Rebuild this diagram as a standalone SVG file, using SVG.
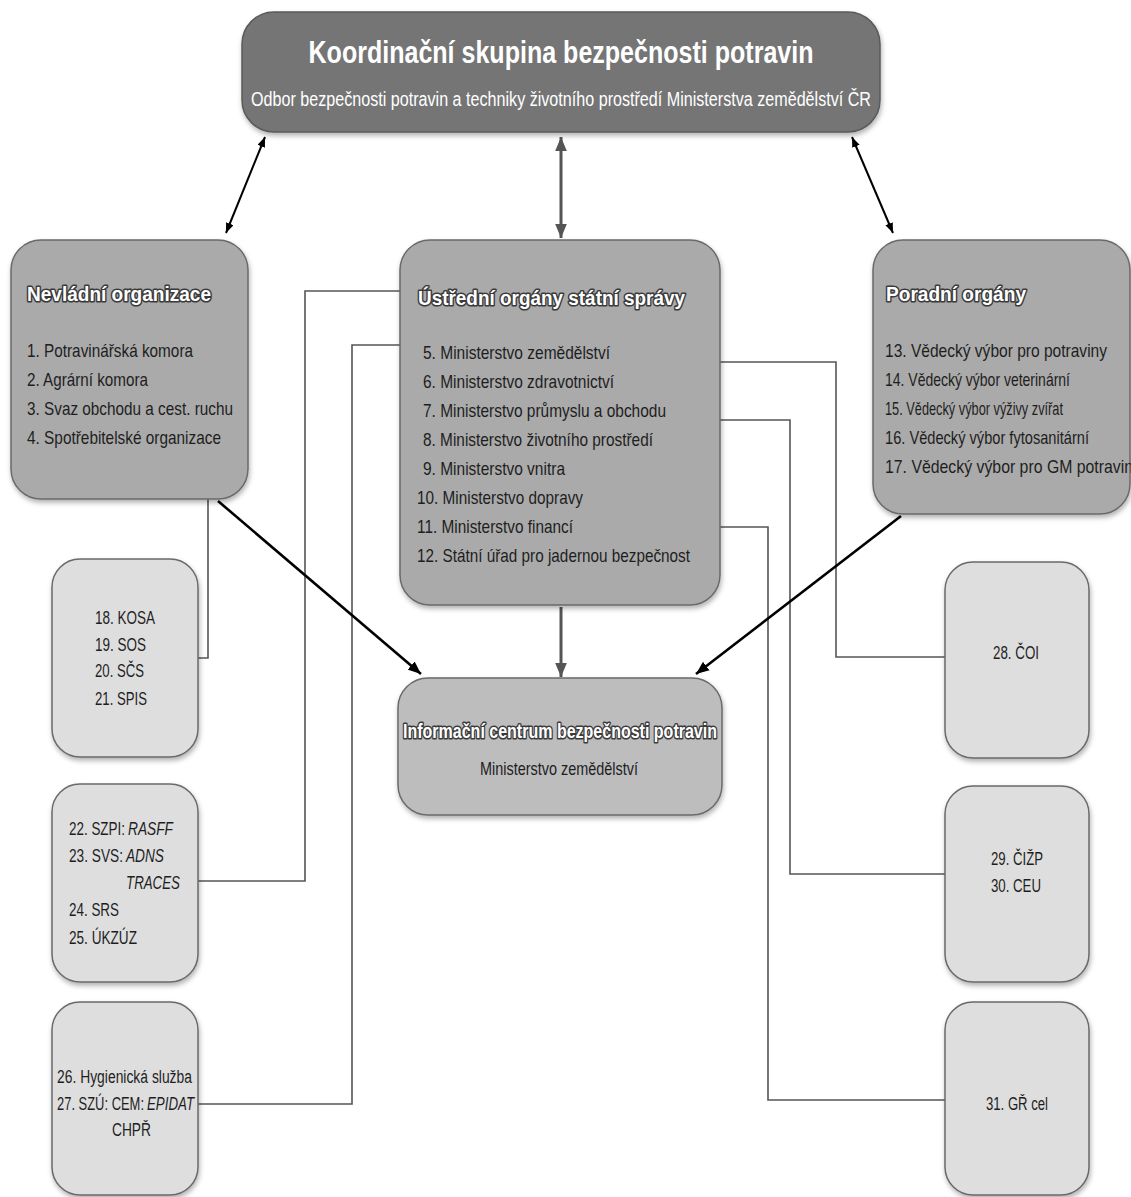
<svg xmlns="http://www.w3.org/2000/svg" width="1131" height="1197" viewBox="0 0 1131 1197">
<style>
.t{font-family:"Liberation Sans",Arial,sans-serif;fill:#1e1e1e;font-size:19px}
.s{font-family:"Liberation Sans",Arial,sans-serif;fill:#1e1e1e;font-size:18px}
.i{font-style:italic}
.h{font-family:"Liberation Sans",Arial,sans-serif;font-weight:bold;font-size:21px;fill:#fff;stroke:#3a3a3a;stroke-width:3.2px;paint-order:stroke;stroke-linejoin:round}
.big{fill:#aaaaaa;stroke:#6a6a6a;stroke-width:1.5}
.light{fill:#dedede;stroke:#6a6a6a;stroke-width:1.5}
.conn{fill:none;stroke:#555;stroke-width:1.6}
</style>
<defs>
<filter id="sh" x="-10%" y="-10%" width="120%" height="125%">
<feDropShadow dx="1" dy="3" stdDeviation="2.5" flood-color="#000" flood-opacity="0.3"/>
</filter>
<marker id="ab" viewBox="0 0 10 8" refX="10" refY="4" markerWidth="10" markerHeight="8" markerUnits="userSpaceOnUse" orient="auto-start-reverse">
<path d="M0,0 L10,4 L0,8 z" fill="#000"/>
</marker>
<marker id="ag" viewBox="0 0 12 10" refX="12" refY="5" markerWidth="14" markerHeight="12" markerUnits="userSpaceOnUse" orient="auto-start-reverse">
<path d="M0,0 L12,5 L0,10 z" fill="#555"/>
</marker>
<marker id="ak" viewBox="0 0 12 10" refX="12" refY="5" markerWidth="13" markerHeight="11" markerUnits="userSpaceOnUse" orient="auto">
<path d="M0,0 L12,5 L0,10 z" fill="#000"/>
</marker>
</defs>

<g id="connectors">
<polyline class="conn" points="208,499 208,658 198,658"/>
<polyline class="conn" points="400,291 305,291 305,881 198,881"/>
<polyline class="conn" points="400,345 352,345 352,1104 198,1104"/>
<polyline class="conn" points="720,362 836,362 836,657 945,657"/>
<polyline class="conn" points="720,420 790,420 790,874 945,874"/>
<polyline class="conn" points="720,527 768,527 768,1100 945,1100"/>
<line x1="265" y1="137" x2="226" y2="233" stroke="#000" stroke-width="2" marker-start="url(#ab)" marker-end="url(#ab)"/>
<line x1="561" y1="137" x2="561" y2="238" stroke="#555" stroke-width="3" marker-start="url(#ag)" marker-end="url(#ag)"/>
<line x1="852" y1="137" x2="893" y2="233" stroke="#000" stroke-width="2" marker-start="url(#ab)" marker-end="url(#ab)"/>
<line x1="218" y1="501" x2="421" y2="674" stroke="#000" stroke-width="2.6" marker-end="url(#ak)"/>
<line x1="901" y1="516" x2="696" y2="674" stroke="#000" stroke-width="2.6" marker-end="url(#ak)"/>
<line x1="561" y1="607" x2="561" y2="677" stroke="#555" stroke-width="3" marker-end="url(#ag)"/>
</g>

<g id="koordinacni-skupina">
<rect x="242" y="12" width="638" height="120" rx="32" fill="#747474" stroke="#5a5a5a" stroke-width="1.5" filter="url(#sh)"/>
<text x="561" y="63" text-anchor="middle" font-family="Liberation Sans, Arial, sans-serif" font-weight="bold" font-size="32" fill="#fff" textLength="505" lengthAdjust="spacingAndGlyphs">Koordinační skupina bezpečnosti potravin</text>
<text x="561" y="106" text-anchor="middle" font-family="Liberation Sans, Arial, sans-serif" font-size="20" fill="#fff" textLength="620" lengthAdjust="spacingAndGlyphs">Odbor bezpečnosti potravin a techniky životního prostředí Ministerstva zemědělství ČR</text>
</g>

<g id="nevladni-organizace">
<rect class="big" x="11" y="240" width="237" height="259" rx="30" filter="url(#sh)"/>
<text class="h" x="27" y="301" textLength="184" lengthAdjust="spacingAndGlyphs">Nevládní organizace</text>
<text class="t" x="27" y="357" textLength="166" lengthAdjust="spacingAndGlyphs">1. Potravinářská komora</text>
<text class="t" x="27" y="386" textLength="121" lengthAdjust="spacingAndGlyphs">2. Agrární komora</text>
<text class="t" x="27" y="415" textLength="206" lengthAdjust="spacingAndGlyphs">3. Svaz obchodu a cest. ruchu</text>
<text class="t" x="27" y="444" textLength="194" lengthAdjust="spacingAndGlyphs">4. Spotřebitelské organizace</text>
</g>

<g id="ustredni-organy">
<rect class="big" x="400" y="240" width="320" height="365" rx="30" filter="url(#sh)"/>
<text class="h" x="418" y="305" textLength="267" lengthAdjust="spacingAndGlyphs">Ústřední orgány státní správy</text>
<text class="t" x="423" y="359" textLength="187" lengthAdjust="spacingAndGlyphs">5. Ministerstvo zemědělství</text>
<text class="t" x="423" y="388" textLength="191" lengthAdjust="spacingAndGlyphs">6. Ministerstvo zdravotnictví</text>
<text class="t" x="423" y="417" textLength="243" lengthAdjust="spacingAndGlyphs">7. Ministerstvo průmyslu a obchodu</text>
<text class="t" x="423" y="446" textLength="230" lengthAdjust="spacingAndGlyphs">8. Ministerstvo životního prostředí</text>
<text class="t" x="423" y="475" textLength="142" lengthAdjust="spacingAndGlyphs">9. Ministerstvo vnitra</text>
<text class="t" x="417" y="504" textLength="166" lengthAdjust="spacingAndGlyphs">10. Ministerstvo dopravy</text>
<text class="t" x="417" y="533" textLength="156" lengthAdjust="spacingAndGlyphs">11. Ministerstvo financí</text>
<text class="t" x="417" y="562" textLength="273" lengthAdjust="spacingAndGlyphs">12. Státní úřad pro jadernou bezpečnost</text>
</g>

<g id="poradni-organy">
<rect class="big" x="873" y="240" width="257" height="274" rx="30" filter="url(#sh)"/>
<text class="h" x="886" y="301" textLength="140" lengthAdjust="spacingAndGlyphs">Poradní orgány</text>
<text class="t" x="885" y="357" textLength="222" lengthAdjust="spacingAndGlyphs">13. Vědecký výbor pro potraviny</text>
<text class="t" x="885" y="386" textLength="185" lengthAdjust="spacingAndGlyphs">14. Vědecký výbor veterinární</text>
<text class="t" x="885" y="415" textLength="178" lengthAdjust="spacingAndGlyphs">15. Vědecký výbor výživy zvířat</text>
<text class="t" x="885" y="444" textLength="204" lengthAdjust="spacingAndGlyphs">16. Vědecký výbor fytosanitární</text>
<text class="t" x="885" y="473" textLength="256" lengthAdjust="spacingAndGlyphs">17. Vědecký výbor pro GM potraviny</text>
</g>

<g id="informacni-centrum">
<rect x="398" y="678" width="324" height="137" rx="30" fill="#bdbdbd" stroke="#6a6a6a" stroke-width="1.5" filter="url(#sh)"/>
<text class="h" x="403" y="738" font-size="20" textLength="314" lengthAdjust="spacingAndGlyphs">Informační centrum bezpečnosti potravin</text>
<text class="t" x="480" y="775" textLength="158" lengthAdjust="spacingAndGlyphs">Ministerstvo zemědělství</text>
</g>

<g id="kosa">
<rect class="light" x="52" y="559" width="146" height="198" rx="28" filter="url(#sh)"/>
<text class="s" x="95" y="624" textLength="60" lengthAdjust="spacingAndGlyphs">18. KOSA</text>
<text class="s" x="95" y="651" textLength="51" lengthAdjust="spacingAndGlyphs">19. SOS</text>
<text class="s" x="95" y="677" textLength="49" lengthAdjust="spacingAndGlyphs">20. SČS</text>
<text class="s" x="95" y="705" textLength="52" lengthAdjust="spacingAndGlyphs">21. SPIS</text>
</g>

<g id="szpi">
<rect class="light" x="52" y="784" width="146" height="198" rx="28" filter="url(#sh)"/>
<text class="s" x="69" y="835" textLength="56" lengthAdjust="spacingAndGlyphs">22. SZPI:</text>
<text class="s i" x="128" y="835" textLength="45" lengthAdjust="spacingAndGlyphs">RASFF</text>
<text class="s" x="69" y="862" textLength="54" lengthAdjust="spacingAndGlyphs">23. SVS:</text>
<text class="s i" x="126" y="862" textLength="38" lengthAdjust="spacingAndGlyphs">ADNS</text>
<text class="s i" x="126" y="889" textLength="54" lengthAdjust="spacingAndGlyphs">TRACES</text>
<text class="s" x="69" y="916" textLength="50" lengthAdjust="spacingAndGlyphs">24. SRS</text>
<text class="s" x="69" y="944" textLength="68" lengthAdjust="spacingAndGlyphs">25. ÚKZÚZ</text>
</g>

<g id="hygienicka-sluzba">
<rect class="light" x="52" y="1002" width="146" height="193" rx="28" filter="url(#sh)"/>
<text class="s" x="57" y="1083" textLength="135" lengthAdjust="spacingAndGlyphs">26. Hygienická služba</text>
<text class="s" x="57" y="1110" textLength="87" lengthAdjust="spacingAndGlyphs">27. SZÚ: CEM:</text>
<text class="s i" x="147" y="1110" textLength="47" lengthAdjust="spacingAndGlyphs">EPIDAT</text>
<text class="s" x="112" y="1136" textLength="39" lengthAdjust="spacingAndGlyphs">CHPŘ</text>
</g>

<g id="coi">
<rect class="light" x="945" y="562" width="144" height="196" rx="28" filter="url(#sh)"/>
<text class="s" x="993" y="659" textLength="46" lengthAdjust="spacingAndGlyphs">28. ČOI</text>
</g>

<g id="cizp-ceu">
<rect class="light" x="945" y="786" width="144" height="196" rx="28" filter="url(#sh)"/>
<text class="s" x="991" y="865" textLength="52" lengthAdjust="spacingAndGlyphs">29. ČIŽP</text>
<text class="s" x="991" y="892" textLength="50" lengthAdjust="spacingAndGlyphs">30. CEU</text>
</g>

<g id="gr-cel">
<rect class="light" x="945" y="1002" width="144" height="193" rx="28" filter="url(#sh)"/>
<text class="s" x="986" y="1110" textLength="62" lengthAdjust="spacingAndGlyphs">31. GŘ cel</text>
</g>
</svg>
